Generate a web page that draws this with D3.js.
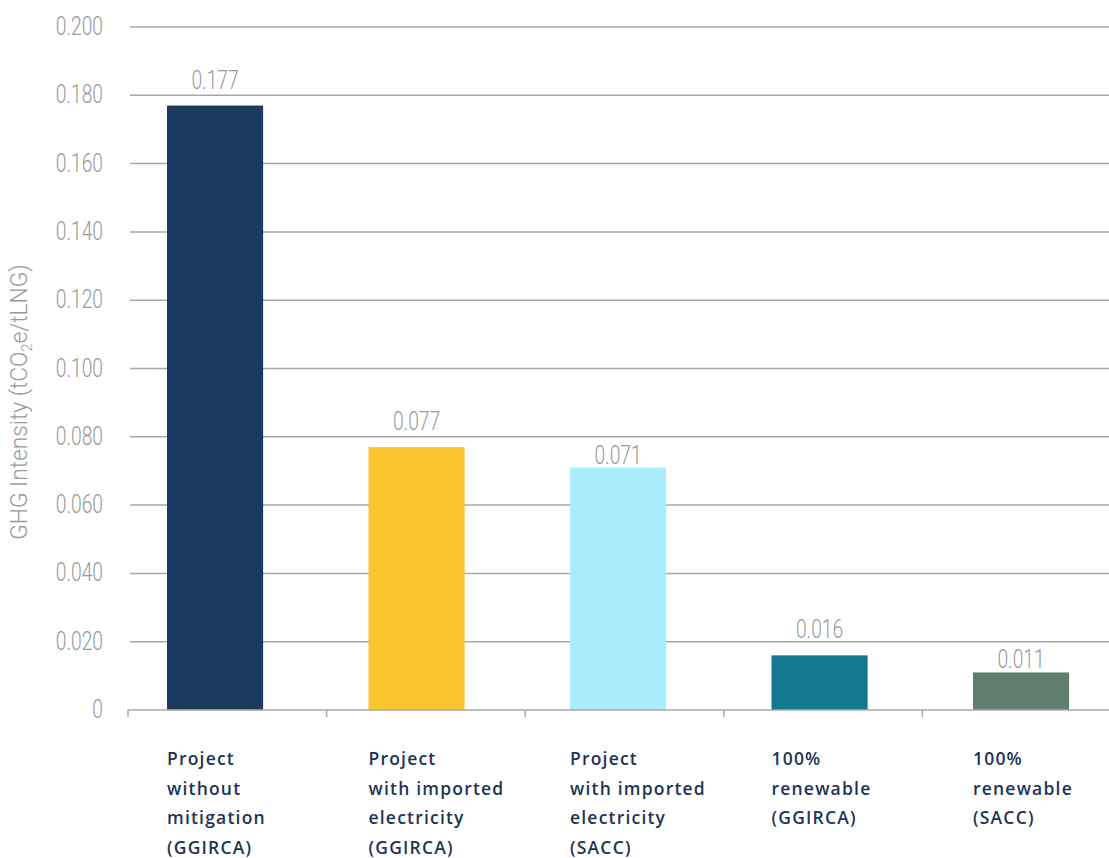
<!DOCTYPE html>
<html><head><meta charset="utf-8">
<script src="https://cdn.jsdelivr.net/npm/d3@7"></script>
<style>body{margin:0;background:#fff;} svg{display:block;}</style>
</head><body>
<script>
const categories = [
  ["Project","without","mitigation","(GGIRCA)"],
  ["Project","with imported","electricity","(GGIRCA)"],
  ["Project","with imported","electricity","(SACC)"],
  ["100%","renewable","(GGIRCA)"],
  ["100%","renewable","(SACC)"]
];
const values = [0.177, 0.077, 0.071, 0.016, 0.011];
const valueLabels = ["0.177","0.077","0.071","0.016","0.011"];
const barColors = ["#1b3a5f","#fcc42d","#a9ecfb","#137891","#5f7e6e"];
const yTicks = [0,0.02,0.04,0.06,0.08,0.1,0.12,0.14,0.16,0.18,0.2];
const yTickLabels = ["0","0.020","0.040","0.060","0.080","0.100","0.120","0.140","0.160","0.180","0.200"];

const W=1109,H=858;
const svg=d3.select("body").append("svg").attr("width",W).attr("height",H);
const numFont="Roboto,sans-serif";
const gray="#999999";
const SX=0.77;

const y=d3.scaleLinear().domain([0,0.2]).range([710,27]);
const ids=d3.range(categories.length);
const xTick=d3.scaleBand().domain(ids).range([128,1121]);
const xBar=d3.scaleBand().domain(ids).range([167,1174.5]);
const barW=xBar.bandwidth()*0.477;

// gridlines
svg.append("g").selectAll("line").data(yTicks.slice(1)).join("line")
  .attr("x1",130).attr("x2",W).attr("y1",d=>y(d)).attr("y2",d=>y(d))
  .attr("stroke","#a8a8a8").attr("stroke-width",1.5);

// y tick labels (condensed light)
svg.append("g").selectAll("text").data(yTicks).join("text")
  .attr("transform",d=>`translate(103,${y(d)+8}) scale(${SX},1)`)
  .attr("text-anchor","end")
  .attr("font-family",numFont).attr("font-weight",300).attr("font-size",25).attr("fill",gray)
  .text((d,i)=>yTickLabels[i]);

// bars
svg.append("g").selectAll("rect").data(values).join("rect")
  .attr("x",(d,i)=>xBar(i)).attr("width",barW)
  .attr("y",d=>y(d)).attr("height",d=>y(0)-y(d))
  .attr("fill",(d,i)=>barColors[i]);

// axis line and ticks
svg.append("line").attr("x1",128).attr("x2",W).attr("y1",y(0)).attr("y2",y(0))
  .attr("stroke","#a8a8a8").attr("stroke-width",1.5);
svg.append("g").selectAll("line").data(ids).join("line")
  .attr("x1",d=>xTick(d)).attr("x2",d=>xTick(d)).attr("y1",y(0)).attr("y2",y(0)+7)
  .attr("stroke","#a8a8a8").attr("stroke-width",1.5);

// value labels (avoid crossing gridlines)
function labelY(d){
  let b=y(d)-17;
  const hit=yTicks.some(t=>{const gy=y(t);return gy>b-18&&gy<b+3;});
  if(hit) b=y(d)-4;
  return b;
}
svg.append("g").selectAll("text").data(values).join("text")
  .attr("transform",(d,i)=>`translate(${xBar(i)+barW/2},${labelY(d)}) scale(${SX},1)`)
  .attr("text-anchor","middle").attr("font-family",numFont).attr("font-weight",300)
  .attr("font-size",25).attr("fill",gray)
  .text((d,i)=>valueLabels[i]);

// category labels
const cg=svg.append("g").selectAll("text").data(categories).join("text")
  .attr("x",(d,i)=>xBar(i)).attr("y",765)
  .attr("font-family","'Open Sans',sans-serif").attr("font-weight",600).attr("font-size",17.5)
  .attr("letter-spacing",1.2).attr("fill","#1e3456");
cg.selectAll("tspan").data(d=>d).join("tspan")
  .attr("x",function(){return this.parentNode.getAttribute("x");})
  .attr("dy",(d,i)=>i?29.5:0).text(d=>d);

// y axis title
const t=svg.append("text").attr("transform",`translate(27,402) rotate(-90) scale(0.95,1)`)
  .attr("text-anchor","middle").attr("font-family",numFont).attr("font-weight",300)
  .attr("font-size",24).attr("fill",gray);
t.append("tspan").text("GHG Intensity (tCO");
t.append("tspan").attr("font-size",15).attr("dy",5).text("2");
t.append("tspan").attr("dy",-5).text("e/tLNG)");
</script>
</body></html>
